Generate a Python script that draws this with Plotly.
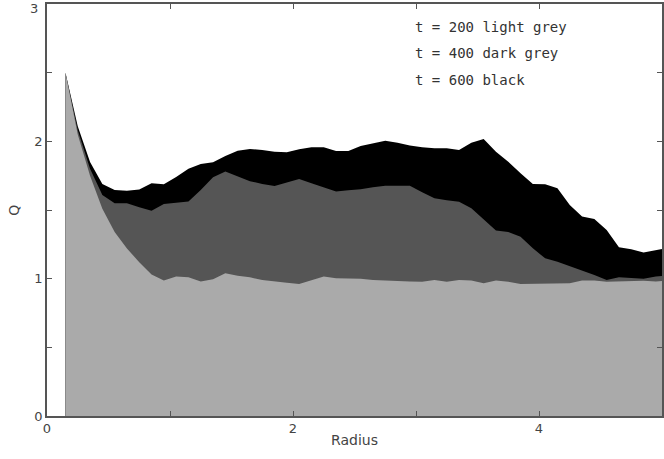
import plotly.graph_objects as go

# Raio (grade de 0.1 a partir de 0.15)
radius = [0.15, 0.25, 0.35, 0.45, 0.55, 0.65, 0.75, 0.85, 0.95, 1.05,
          1.15, 1.25, 1.35, 1.45, 1.55, 1.65, 1.75, 1.85, 1.95, 2.05,
          2.15, 2.25, 2.35, 2.45, 2.55, 2.65, 2.75, 2.85, 2.95, 3.05,
          3.15, 3.25, 3.35, 3.45, 3.55, 3.65, 3.75, 3.85, 3.95, 4.05,
          4.15, 4.25, 4.35, 4.45, 4.55, 4.65, 4.75, 4.85, 4.95, 5.05]

# Q em t = 200 (cinza claro)
q_t200 = [2.50, 2.05, 1.75, 1.51, 1.34, 1.22, 1.12, 1.03, 0.986, 1.015,
          1.01, 0.979, 0.996, 1.04, 1.022, 1.01, 0.99, 0.978, 0.971, 0.961,
          0.99, 1.015, 1.003, 1.0, 1.0, 0.99, 0.985, 0.985, 0.98, 0.978,
          0.99, 0.978, 0.99, 0.986, 0.966, 0.986, 0.978, 0.961, 0.961, 0.961,
          0.966, 0.966, 0.986, 0.986, 0.978, 0.98, 0.98, 0.985, 0.98, 0.985]

# Q em t = 400 (cinza escuro)
q_t400 = [2.50, 2.08, 1.80, 1.61, 1.55, 1.55, 1.52, 1.495, 1.544, 1.554,
          1.561, 1.646, 1.738, 1.78, 1.743, 1.71, 1.69, 1.675, 1.70, 1.726,
          1.695, 1.663, 1.634, 1.644, 1.651, 1.666, 1.677, 1.677, 1.677, 1.63,
          1.585, 1.571, 1.56, 1.513, 1.428, 1.35, 1.34, 1.306, 1.221, 1.148,
          1.124, 1.092, 1.058, 1.027, 0.99, 1.01, 1.005, 1.0, 1.015, 1.025]

# Q em t = 600 (preto)
q_t600 = [2.50, 2.11, 1.85, 1.69, 1.646, 1.64, 1.65, 1.695, 1.687, 1.74,
          1.80, 1.835, 1.848, 1.894, 1.932, 1.945, 1.937, 1.925, 1.92, 1.942,
          1.957, 1.957, 1.93, 1.93, 1.966, 1.986, 2.005, 1.99, 1.969, 1.957,
          1.95, 1.95, 1.937, 1.99, 2.017, 1.925, 1.852, 1.767, 1.69, 1.687,
          1.658, 1.537, 1.452, 1.435, 1.355, 1.228, 1.214, 1.19, 1.209, 1.224]

legend_lines = ['t = 200 light grey', 't = 400 dark grey', 't = 600 black']

fig = go.Figure()
for values, color in [(q_t600, '#000000'), (q_t400, '#555555'), (q_t200, '#aaaaaa')]:
    fig.add_trace(go.Scatter(x=radius, y=values, mode='lines', fill='tozeroy',
                             fillcolor=color, line=dict(width=0, color=color),
                             showlegend=False, hoverinfo='skip'))

# Texto da legenda
for i, txt in enumerate(legend_lines):
    fig.add_annotation(text=txt, xref='paper', yref='paper', x=0.595, y=0.944 - i * 0.064,
                       xanchor='left', yanchor='middle', showarrow=False,
                       font=dict(family='DejaVu Sans Mono', size=14, color='#333333'))

# Títulos dos eixos como anotações
fig.add_annotation(text='Radius', xref='paper', yref='paper', x=0.5, y=-0.058,
                   xanchor='center', yanchor='middle', showarrow=False,
                   font=dict(family='DejaVu Sans', size=14, color='#444444'))
fig.add_annotation(text='Q', xref='paper', yref='paper', x=-0.054, y=0.5, textangle=-90,
                   xanchor='center', yanchor='middle', showarrow=False,
                   font=dict(family='DejaVu Sans', size=14, color='#444444'))
# rótulo "3" do topo (o plotly esconde o rótulo na borda)
fig.add_annotation(text='3', xref='paper', yref='paper', x=-0.012, y=1.012,
                   xanchor='right', yanchor='top', showarrow=False,
                   font=dict(family='DejaVu Sans', size=13, color='#444444'))

axis_style = dict(showgrid=False, zeroline=False, showline=True, linecolor='#555555',
                  linewidth=1.5, ticks='inside', ticklen=5, tickcolor='#555555',
                  mirror='ticks', automargin=False,
                  tickfont=dict(family='DejaVu Sans', size=13, color='#444444'))

fig.update_xaxes(range=[0, 5], tickvals=[0, 1, 2, 3, 4, 5], ticktext=['0', '', '2', '', '4', ''],
                 **axis_style)
fig.update_yaxes(range=[0, 3], tickvals=[0, 0.5, 1, 1.5, 2, 2.5, 3],
                 ticktext=['0', '', '1', '', '2', '', ''], **axis_style)

fig.update_layout(width=664, height=459, margin=dict(l=47, r=2, t=4, b=43),
                  plot_bgcolor='white', paper_bgcolor='white')

# tirar a margem padrão do body para o gráfico ficar no canto da janela
fig.write_html("out.html", config={'displayModeBar': False},
               post_script="document.body.style.margin='0';")
